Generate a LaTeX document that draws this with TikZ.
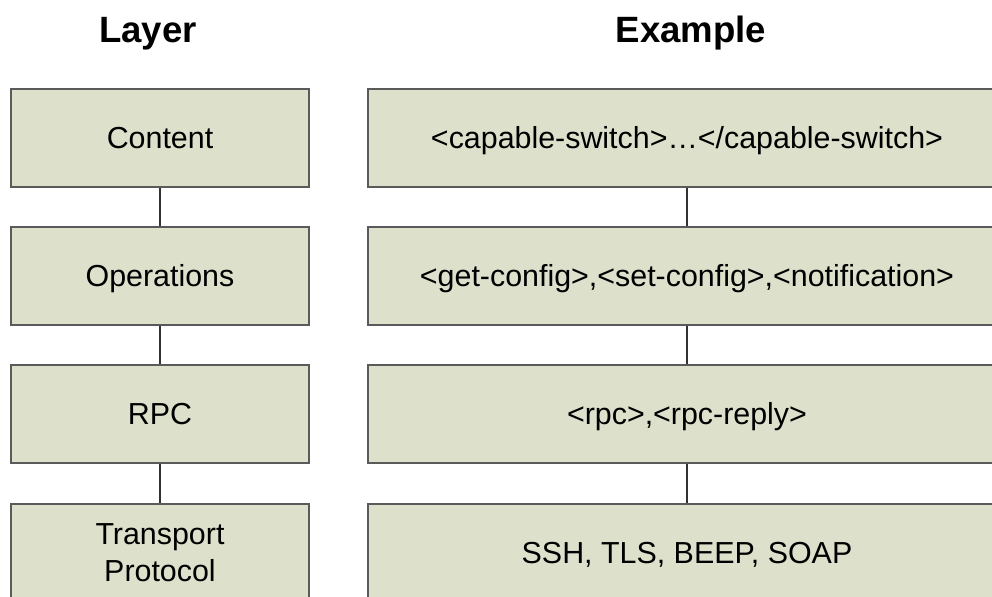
\documentclass[tikz,border=0pt]{standalone}
\usepackage{fontspec}
\setmainfont{Liberation Sans}
\usetikzlibrary{positioning}

\definecolor{boxfill}{RGB}{221,224,203}
\definecolor{boxline}{RGB}{90,90,90}
\definecolor{linkline}{RGB}{50,50,50}

\tikzset{
	layerbox/.style={rectangle, draw=boxline, fill=boxfill, line width=0.6pt,
		minimum width=149pt, minimum height=49pt, inner sep=0pt,
		align=center, font=\fontsize{15.2pt}{18.5pt}\selectfont},
	oneline/.style={text height=10.9pt, text depth=0pt},
	examplebox/.style={layerbox, oneline, minimum width=319pt},
	headline/.style={font=\fontsize{18.3pt}{22pt}\selectfont\bfseries,
		text height=13.1pt, text depth=0pt},
	link/.style={draw=linkline, line width=0.7pt}
}

\begin{document}
\begin{tikzpicture}
	[x=0.5pt,y=-0.5pt]
	\useasboundingbox (0,0) rectangle (992,596);
	\clip (0,0) rectangle (992,596);
	\node[headline] (hlayer) at (148,29) {Layer};
	\node[headline] (hexample) at (691,29) {Example};
	
	\node[layerbox, oneline] (content) at (160,138) {Content};
	\node[layerbox, oneline] (operations) at (160,276) {Operations};
	\node[layerbox, oneline] (rpc) at (160,414) {RPC};
	\node[layerbox] (transport) at (160,553) {Transport\\Protocol};
	
	\node[examplebox] (xcontent) at (687,138) {<capable-switch>…</capable-switch>};
	\node[examplebox] (xoperations) at (687,276) {<get-config>,<set-config>,<notification>};
	\node[examplebox] (xrpc) at (687,414) {<rpc>,<rpc-reply>};
	\node[examplebox] (xtransport) at (687,553) {SSH, TLS, BEEP, SOAP};
	
	\foreach \from/\to in {content/operations,operations/rpc,rpc/transport,xcontent/xoperations,xoperations/xrpc,xrpc/xtransport}
	\draw[link] (\from) -- (\to);
\end{tikzpicture}
\end{document}
